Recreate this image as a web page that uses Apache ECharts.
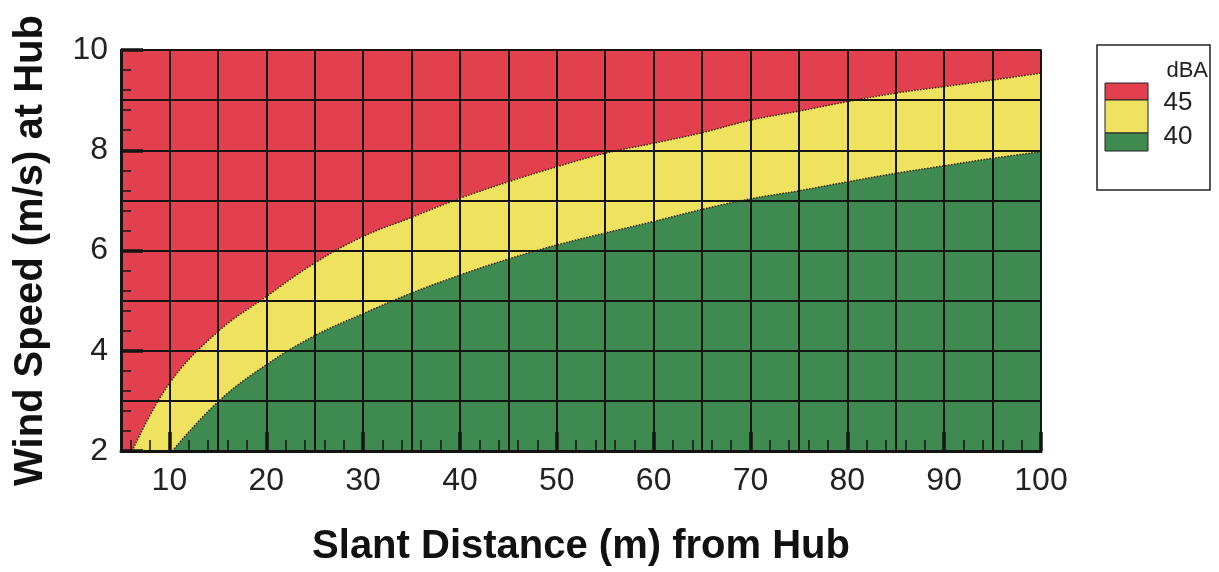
<!DOCTYPE html>
<html>
<head>
<meta charset="utf-8">
<script src="https://cdn.jsdelivr.net/npm/echarts@6/dist/echarts.min.js"></script>
<style>
  html, body { margin: 0; padding: 0; background: #fff; }
  #chart { width: 1219px; height: 572px; }
</style>
</head>
<body>
<div id="chart"></div>
<script>
// 45 dBA boundary (red / yellow)
const dist45 = [6.15, 10, 15, 20, 25, 30, 35, 40, 45, 50, 55, 60, 65, 70, 75, 80, 85, 90, 95, 100];
const wind45 = [2, 3.35, 4.38, 5.08, 5.75, 6.28, 6.66, 7.04, 7.37, 7.67, 7.94, 8.14, 8.35, 8.6, 8.78, 8.97, 9.14, 9.27, 9.4, 9.54];
// 40 dBA boundary (yellow / green)
const dist40 = [10.3, 15, 20, 25, 30, 35, 40, 45, 50, 55, 60, 65, 70, 75, 80, 85, 90, 95, 100];
const wind40 = [2, 2.98, 3.72, 4.3, 4.74, 5.15, 5.51, 5.83, 6.11, 6.35, 6.58, 6.82, 7.03, 7.19, 7.37, 7.54, 7.69, 7.84, 7.97];

// axis ticks / labels
const xLabels = [10, 20, 30, 40, 50, 60, 70, 80, 90, 100];
const xMinorTicks = [6, 8, 12, 14, 16, 18, 22, 24, 26, 28, 32, 34, 36, 38, 42, 44, 46, 48, 52, 54, 56, 58,
  62, 64, 66, 68, 72, 74, 76, 78, 82, 84, 86, 88, 92, 94, 96, 98];
const legendLevels = ['45', '40'];

const RED = '#e3404f';
const YELLOW = '#efe25f';
const GREEN = '#3e8a50';
const LINE = '#141414';

const chart = echarts.init(document.getElementById('chart'));

function pairs(xs, ys) {
  return xs.map((x, i) => [x, ys[i]]);
}

const numFont = "'Liberation Sans', Arial, sans-serif";

const baseX = { type: 'value', min: 5, max: 100, position: 'bottom', z: 10 };
const baseY = { type: 'value', min: 2, max: 10, position: 'left', z: 10 };

const option = {
  backgroundColor: '#ffffff',
  animation: false,
  grid: {
    left: 121, top: 50, right: 178, bottom: 121,
    outerBoundsMode: 'none',
    containLabel: false,
    show: true,
    backgroundColor: RED,
    borderColor: LINE,
    borderWidth: 1.5
  },
  xAxis: [
    // grid lines every 5
    Object.assign({}, baseX, {
      interval: 5,
      axisLine: { show: true, lineStyle: { color: LINE, width: 3 } },
      axisTick: { show: false },
      axisLabel: { show: false },
      splitLine: { show: true, lineStyle: { color: LINE, width: 2 } }
    }),
    // small ticks every 2
    Object.assign({}, baseX, {
      axisLine: { show: false },
      axisTick: { show: true, inside: true, length: 11, customValues: xMinorTicks, lineStyle: { color: LINE, width: 1.5 } },
      axisLabel: { show: false },
      splitLine: { show: false }
    }),
    // big ticks + labels every 10
    Object.assign({}, baseX, {
      axisLine: { show: false },
      axisTick: { show: true, inside: true, length: 19, customValues: xLabels, lineStyle: { color: LINE, width: 3.5 } },
      axisLabel: { show: true, customValues: xLabels, margin: 14, color: '#222', fontSize: 32, fontFamily: numFont },
      splitLine: { show: false },
      name: 'Slant Distance (m) from Hub',
      nameLocation: 'middle',
      nameGap: 76,
      nameTextStyle: { color: '#111', fontSize: 40, fontWeight: 'bold', fontFamily: numFont }
    })
  ],
  yAxis: [
    Object.assign({}, baseY, {
      interval: 1,
      axisLine: { show: true, lineStyle: { color: LINE, width: 3 } },
      axisTick: { show: false },
      axisLabel: { show: false },
      splitLine: { show: true, lineStyle: { color: LINE, width: 2 } }
    }),
    Object.assign({}, baseY, {
      interval: 2,
      axisLine: { show: false },
      axisTick: { show: true, inside: true, length: 22, lineStyle: { color: LINE, width: 3.5 } },
      minorTick: { show: true, splitNumber: 5, length: 10, lineStyle: { color: LINE, width: 1.5 } },
      axisLabel: { show: true, margin: 13, color: '#222', fontSize: 32, fontFamily: numFont },
      splitLine: { show: false },
      name: 'Wind Speed (m/s) at Hub',
      nameLocation: 'middle',
      nameGap: 70,
      nameTextStyle: { color: '#111', fontSize: 40, fontWeight: 'bold', fontFamily: numFont }
    })
  ],
  series: [
    {
      name: '45',
      type: 'line',
      xAxisIndex: 0, yAxisIndex: 0,
      data: pairs(dist45, wind45),
      showSymbol: false,
      smooth: 0.4,
      lineStyle: { color: '#3a2416', width: 1.5, type: 'dotted' },
      areaStyle: { color: YELLOW, opacity: 1, origin: 'start' },
      z: 2
    },
    {
      name: '40',
      type: 'line',
      xAxisIndex: 0, yAxisIndex: 0,
      data: pairs(dist40, wind40),
      showSymbol: false,
      smooth: 0.4,
      lineStyle: { color: '#3a2416', width: 1.5, type: 'dotted' },
      areaStyle: { color: GREEN, opacity: 1, origin: 'start' },
      z: 3
    }
  ],
  graphic: [
    {
      type: 'rect',
      shape: { x: 1097, y: 45, width: 113, height: 145 },
      style: { fill: '#fff', stroke: '#222', lineWidth: 1.5 }
    },
    {
      type: 'text',
      style: { x: 1208, y: 71, text: 'dBA', fill: '#222', font: "22px 'Liberation Sans', Arial, sans-serif", textAlign: 'right', textVerticalAlign: 'middle' }
    },
    { type: 'rect', shape: { x: 1105, y: 83, width: 43, height: 17 }, style: { fill: RED, stroke: '#222', lineWidth: 1 } },
    { type: 'rect', shape: { x: 1105, y: 100, width: 43, height: 33 }, style: { fill: YELLOW, stroke: '#222', lineWidth: 1 } },
    { type: 'rect', shape: { x: 1105, y: 133, width: 43, height: 18 }, style: { fill: GREEN, stroke: '#222', lineWidth: 1 } },
    {
      type: 'text',
      style: { x: 1178, y: 103, text: legendLevels[0], fill: '#222', font: "26px 'Liberation Sans', Arial, sans-serif", textAlign: 'center', textVerticalAlign: 'middle' }
    },
    {
      type: 'text',
      style: { x: 1178, y: 137, text: legendLevels[1], fill: '#222', font: "26px 'Liberation Sans', Arial, sans-serif", textAlign: 'center', textVerticalAlign: 'middle' }
    }
  ]
};

chart.setOption(option);
</script>
</body>
</html>
